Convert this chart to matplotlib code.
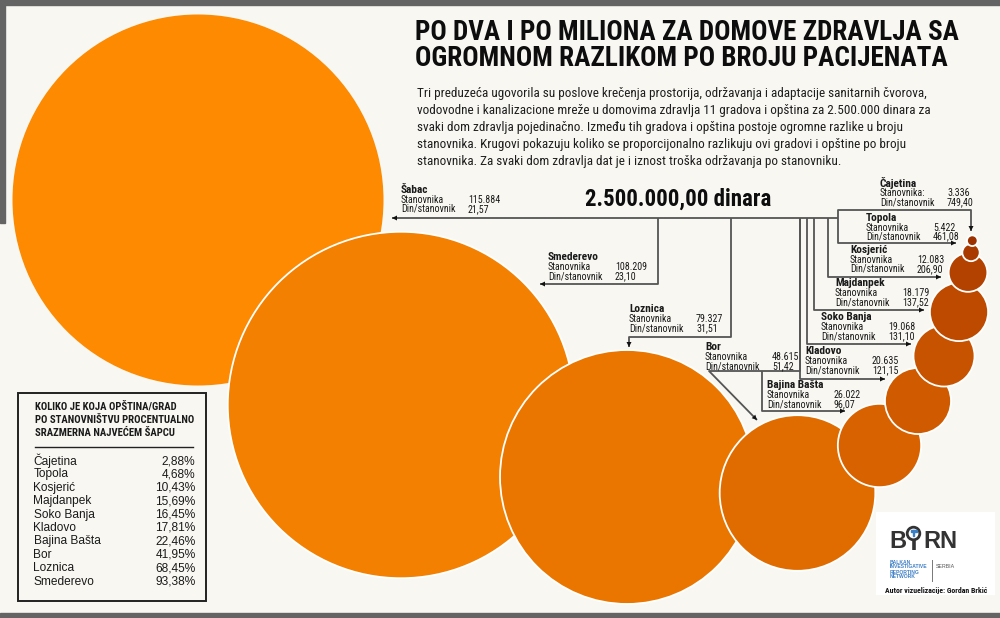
import matplotlib
matplotlib.use('Agg')
import matplotlib.pyplot as plt
from matplotlib import font_manager as fm
from matplotlib.patches import Circle, Rectangle

# ---------------- data ----------------
cities = ['Šabac', 'Smederevo', 'Loznica', 'Bor', 'Bajina Bašta', 'Kladovo',
          'Soko Banja', 'Majdanpek', 'Kosjerić', 'Topola', 'Čajetina']
population = [115884, 108209, 79327, 48615, 26022, 20635, 19068, 18179, 12083, 5422, 3336]
din_per_capita = [21.57, 23.10, 31.51, 51.42, 96.07, 121.15, 131.10, 137.52, 206.90, 461.08, 749.40]
amount_per_center = 2500000.00

table_cities = ['Čajetina', 'Topola', 'Kosjerić', 'Majdanpek', 'Soko Banja', 'Kladovo',
                'Bajina Bašta', 'Bor', 'Loznica', 'Smederevo']
table_pct = [2.88, 4.68, 10.43, 15.69, 16.45, 17.81, 22.46, 41.95, 68.45, 93.38]

title_lines = ['PO DVA I PO MILIONA ZA DOMOVE ZDRAVLJA SA',
               'OGROMNOM RAZLIKOM PO BROJU PACIJENATA']
intro_lines = [
    'Tri preduzeća ugovorila su poslove krečenja prostorija, održavanja i adaptacije sanitarnih čvorova,',
    'vodovodne i kanalizacione mreže u domovima zdravlja 11 gradova i opština za 2.500.000 dinara za',
    'svaki dom zdravlja pojedinačno. Između tih gradova i opština postoje ogromne razlike u broju',
    'stanovnika. Krugovi pokazuju koliko se proporcijonalno razlikuju ovi gradovi i opštine po broju',
    'stanovnika. Za svaki dom zdravlja dat je i iznost troška održavanja po stanovniku.',
]
table_title = ['KOLIKO JE KOJA OPŠTINA/GRAD', 'PO STANOVNIŠTVU PROCENTUALNO', 'SRAZMERNA NAJVEĆEM ŠAPCU']

# ---------------- layout (pixel space) ----------------
centers = [(198, 200), (401, 405), (627, 477), (797.5, 493), (879.5, 445.5), (918, 401),
           (944, 356), (959, 312), (968, 272.5), (971, 252.5), (972.3, 240.7)]
R_MAX = 185.5
circle_colors = ['#FD8A00', '#F38000', '#EA7600', '#E06C00', '#D86200', '#CF5A00',
                 '#C75200', '#BE4A00', '#B34200', '#A83A00', '#9C3200']
label_pos = [(401, 190), (548, 257.5), (629, 309.5), (705, 347), (767, 385), (805, 351),
             (821, 317.5), (835, 283.5), (850, 250), (866, 217.7), (880, 183.3)]
paths = [
    [(838, 218), (392, 218)],
    [(658, 218), (658, 284), (540, 284)],
    [(731, 218), (731, 337), (629, 337), (629, 347)],
    [(800, 218), (800, 371), (709, 371), (757, 420)],
    [(762, 371), (762, 411), (845, 411)],
    [(800, 218), (800, 379), (885, 379)],
    [(807, 218), (807, 344), (911, 344)],
    [(814, 218), (814, 310), (924, 310)],
    [(828, 218), (828, 277), (941, 277)],
    [(838, 218), (838, 243), (956, 243)],
    [(838, 218), (838, 210), (971, 210), (971, 231)],
]

# ---------------- fonts ----------------
names = {f.name for f in fm.fontManager.ttflist}
def pick(cands, default):
    for c in cands:
        if c in names:
            return c
    return default
COND = pick(['Liberation Sans Narrow', 'Roboto Condensed', 'Open Sans Condensed',
             'DejaVu Sans Condensed', 'Noto Sans Condensed'], 'DejaVu Sans')
REG = pick(['Liberation Sans', 'Open Sans', 'DejaVu Sans'], 'DejaVu Sans')
CF = [COND, 'DejaVu Sans']
RF = [REG, 'DejaVu Sans']

BG = '#F8F7F2'
INK = '#1a1a1a'
LINE = '#555555'

fig = plt.figure(figsize=(10, 6.18), dpi=100)
fig.patch.set_facecolor(BG)
ax = fig.add_axes([0, 0, 1, 1])
ax.set_xlim(0, 1000)
ax.set_ylim(618, 0)
ax.set_facecolor(BG)
ax.axis('off')

# frame bars
ax.add_patch(Rectangle((0, 0), 1000, 4.5, color='#646464', zorder=1))
ax.add_patch(Rectangle((0, 613), 1000, 6, color='#646464', zorder=1))
ax.add_patch(Rectangle((0, 0), 4.5, 223, color='#646464', zorder=1))

# circles: radius proportional to population
pmax = max(population)
for i, (c, p) in enumerate(zip(centers, population)):
    r = R_MAX * p / pmax
    col = circle_colors[i]
    ax.add_patch(Circle(c, r, facecolor=col, edgecolor='white' if i > 0 else col,
                        lw=1.3 if i > 0 else 0, zorder=2 + i))

# connector lines
for pts in paths:
    xs = [p[0] for p in pts]
    ys = [p[1] for p in pts]
    ax.plot(xs, ys, color=LINE, lw=1.3, zorder=20, solid_capstyle='butt')
    (x0, y0), (x1, y1) = pts[-2], pts[-1]
    ax.annotate('', xy=(x1, y1), xytext=(x0, y0),
                arrowprops=dict(arrowstyle='-|>', color='#111111', lw=0,
                                mutation_scale=9, shrinkA=0, shrinkB=0), zorder=21)

# labels
def fmt_int(v):
    return f'{v:,}'.replace(',', '.')
def fmt_dec(v):
    return f'{v:,.2f}'.replace(',', 'X').replace('.', ',').replace('X', '.')

for i, (name, p, d) in enumerate(zip(cities, population, din_per_capita)):
    x, y = label_pos[i]
    ax.text(x, y, name, family=CF, weight='bold', fontsize=8.2, color=INK, va='center', ha='left', zorder=30)
    stan = 'Stanovnika:' if name == 'Čajetina' else 'Stanovnika'
    ax.text(x, y + 10, stan, family=CF, fontsize=7.2, color=INK, va='center', zorder=30)
    ax.text(x, y + 19, 'Din/stanovnik', family=CF, fontsize=7.2, color=INK, va='center', zorder=30)
    ax.text(x + 67, y + 10, fmt_int(p), family=CF, fontsize=7.2, color=INK, va='center', zorder=30)
    ax.text(x + 67, y + 19, fmt_dec(d), family=CF, fontsize=7.2, color=INK, va='center', zorder=30)

# title and intro
t_objs = []
for k, line in enumerate(title_lines):
    t_objs.append(ax.text(415, 32 + 27 * k, line, family=CF, weight='bold', fontsize=22,
                          color='#0d0d0d', va='center', ha='left', zorder=30))
i_objs = []
for k, line in enumerate(intro_lines):
    i_objs.append(ax.text(417, 93.5 + 17.1 * k, line, family=CF, fontsize=10.5,
                          color='#1e1e1e', va='center', ha='left', zorder=30))
big = ax.text(585, 199, fmt_dec(amount_per_center) + ' dinara', family=CF, weight='bold',
              fontsize=19, color='#0d0d0d', va='center', ha='left', zorder=30)

# table box
ax.add_patch(Rectangle((18, 393), 187.5, 207.5, facecolor=BG, edgecolor='#222222', lw=1.4, zorder=30))
h_objs = []
for k, line in enumerate(table_title):
    h_objs.append(ax.text(35, 406.7 + 13.3 * k, line, family=CF, weight='bold', fontsize=8.3,
                          color=INK, va='center', zorder=31))
ax.plot([35, 193], [446.5, 446.5], color='#222222', lw=1.0, zorder=31)
for k, (nm, v) in enumerate(zip(table_cities, table_pct)):
    yy = 461 + 13.4 * k
    ax.text(33.5, yy, nm, family=RF, fontsize=8.6, color=INK, va='center', zorder=31)
    ax.text(195.5, yy, f'{v:.2f}%'.replace('.', ','), family=RF, fontsize=8.6, color=INK,
            va='center', ha='right', zorder=31)

# BIRN logo block
ax.add_patch(Rectangle((876, 512), 119, 83, facecolor='white', edgecolor='none', zorder=40))
ax.text(889, 541, 'B', family=RF, weight='bold', fontsize=17, color='#333333', va='center', zorder=41)
ax.add_patch(Circle((913.5, 533.5), 6.3, facecolor='white', edgecolor='#333333', lw=2.0, zorder=41))
ax.add_patch(Rectangle((910.5, 530), 6, 1.8, color='#3b7fc4', zorder=42))
ax.add_patch(Rectangle((912.6, 530), 1.8, 6, color='#3b7fc4', zorder=42))
ax.plot([913.5, 913.5], [540, 550], color='#333333', lw=2.6, zorder=41, solid_capstyle='butt')
ax.text(923, 541, 'RN', family=RF, weight='bold', fontsize=17, color='#333333', va='center', zorder=41)
for k, w in enumerate(['BALKAN', 'INVESTIGATIVE', 'REPORTING', 'NETWORK']):
    ax.text(890, 562 + 5 * k, w, family=RF, weight='bold', fontsize=3.6, color='#3d7fc6',
            va='center', zorder=41)
ax.plot([932, 932], [560, 581], color='#777777', lw=0.7, zorder=41)
ax.text(936, 567, 'SERBIA', family=RF, fontsize=3.8, color='#555555', va='center', zorder=41)
ax.text(936, 590, 'Autor vizuelizacije: Gordan Brkić', family=CF, weight='bold', fontsize=5.6,
        color='#111111', va='center', ha='center', zorder=41)

# fit key text widths to the layout
fig.canvas.draw()
rend = fig.canvas.get_renderer()
def fit(t, width):
    bb = t.get_window_extent(renderer=rend)
    t.set_fontsize(t.get_fontsize() * width / bb.width)
fit(t_objs[0], 543)
t_objs[1].set_fontsize(t_objs[0].get_fontsize())
fit(i_objs[0], 516)
for t in i_objs[1:]:
    t.set_fontsize(i_objs[0].get_fontsize())
fit(big, 186)
fit(h_objs[1], 158)
for t in (h_objs[0], h_objs[2]):
    t.set_fontsize(h_objs[1].get_fontsize())

fig.savefig('out.png', dpi=100, facecolor=BG)
